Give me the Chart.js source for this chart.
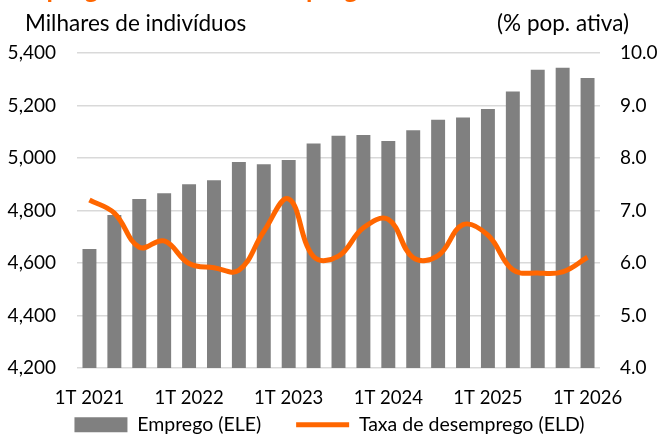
<!DOCTYPE html>
<html>
<head>
<meta charset="utf-8">
<script src="https://cdn.jsdelivr.net/npm/chart.js@4"></script>
<style>
  html, body { margin: 0; padding: 0; background: #fff; }
  #wrap { position: relative; width: 659px; height: 437px; }
</style>
</head>
<body>
<div id="wrap"><canvas id="chart"></canvas></div>
<script>
const quarters = [
  "1T 2021", "2T 2021", "3T 2021", "4T 2021",
  "1T 2022", "2T 2022", "3T 2022", "4T 2022",
  "1T 2023", "2T 2023", "3T 2023", "4T 2023",
  "1T 2024", "2T 2024", "3T 2024", "4T 2024",
  "1T 2025", "2T 2025", "3T 2025", "4T 2025",
  "1T 2026"
];
const emprego = [4653, 4783, 4844, 4866, 4900, 4915, 4985, 4976, 4992, 5055, 5085,
  5088, 5065, 5106, 5146, 5154, 5187, 5253, 5336, 5344, 5305];
const desemprego = [7.20, 6.95, 6.30, 6.42, 5.99, 5.91, 5.86, 6.60, 7.22, 6.12, 6.13,
  6.67, 6.83, 6.10, 6.14, 6.73, 6.53, 5.87, 5.81, 5.83, 6.11];

const FONT = "Lato, 'Open Sans', sans-serif";

// unit captions + the clipped title at the very top
const captions = {
  id: "captions",
  afterLayout(chart) {
    // legend padding doubles as the gap between items; pull it up so the row sits at y~425
    chart.legend.top = 380;
  },
  afterDraw(chart) {
    const c = chart.ctx;
    c.save();
    c.fillStyle = "#FF6600";
    c.font = "bold 26px " + FONT;
    c.textBaseline = "alphabetic";
    c.fillText("Emprego e taxa de desemprego", 10, -2);
    c.fillStyle = "#000";
    c.font = "22.5px " + FONT;
    c.textBaseline = "middle";
    c.textAlign = "left";
    c.fillText("Milhares de indivíduos", 25, 24);
    c.textAlign = "right";
    c.fillText("(% pop. ativa)", 629, 24);
    c.restore();
  }
};

new Chart(document.getElementById("chart"), {
  data: {
    labels: quarters,
    datasets: [
      {
        type: "line",
        label: "Taxa de desemprego (ELD)",
        data: desemprego,
        yAxisID: "y1",
        borderColor: "#FF6600",
        backgroundColor: "#FF6600",
        borderWidth: 5,
        pointRadius: 0,
        pointStyle: "line",
        tension: 0.4,
        order: 1
      },
      {
        type: "bar",
        label: "Emprego (ELE)",
        data: emprego,
        yAxisID: "y",
        backgroundColor: "#808080",
        pointStyle: "rect",
        categoryPercentage: 1,
        barPercentage: 0.56,
        order: 2
      }
    ]
  },
  options: {
    responsive: true,
    maintainAspectRatio: false,
    animation: false,
    layout: { padding: { top: 53, left: 0, right: 0, bottom: 0 } },
    plugins: {
      tooltip: { enabled: false },
      legend: {
        position: "bottom",
        reverse: true,
        maxHeight: 28,
        labels: {
          usePointStyle: true,
          pointStyleWidth: 53,
          boxHeight: 15,
          padding: 35,
          color: "#000",
          font: { family: FONT, size: 19.5 }
        }
      }
    },
    scales: {
      x: {
        afterFit: s => { s.height = 41; },
        grid: { display: false, drawTicks: false },
        border: { display: false },
        ticks: {
          autoSkip: false,
          maxRotation: 0,
          color: "#000",
          font: { family: FONT, size: 18.5 },
          padding: 19,
          callback: function (v) {
            const l = this.getLabelForValue(v);
            return l.startsWith("1T") ? l : "";
          }
        }
      },
      y: {
        position: "left",
        min: 4200,
        max: 5400,
        afterFit: s => { s.width = 77; },
        ticks: {
          stepSize: 200,
          color: "#000",
          padding: 21,
          font: { family: FONT, size: 19 },
          callback: v => v.toLocaleString("en-US")
        },
        grid: { color: "#D9D9D9", lineWidth: 1.5, drawTicks: false },
        border: { display: false }
      },
      y1: {
        position: "right",
        min: 4,
        max: 10,
        afterFit: s => { s.width = 59; },
        ticks: {
          stepSize: 1,
          color: "#000",
          padding: 20,
          font: { family: FONT, size: 19 },
          callback: v => v.toFixed(1)
        },
        grid: { display: false, drawTicks: false },
        border: { display: false }
      }
    }
  },
  plugins: [captions]
});
</script>
</body>
</html>
